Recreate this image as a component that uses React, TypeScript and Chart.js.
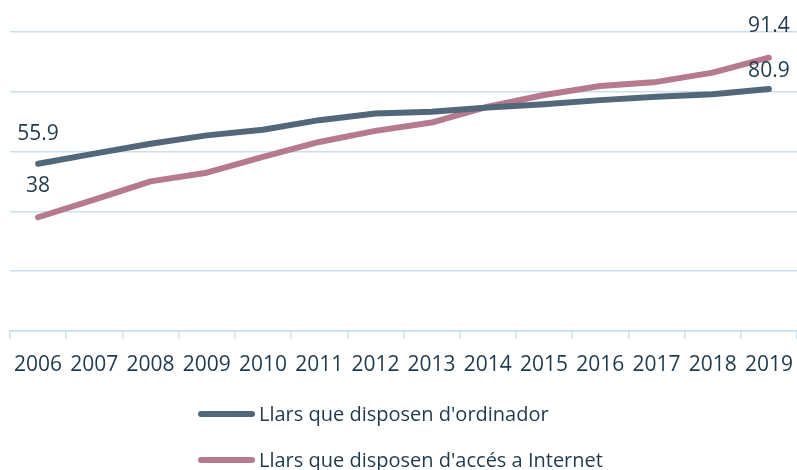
import React, { useEffect, useRef } from "react";
import { Chart, registerables } from "chart.js";

Chart.register(...registerables);

const years = ["2006","2007","2008","2009","2010","2011","2012","2013","2014","2015","2016","2017","2018","2019"];
const ordinador = [55.9, 59.3, 62.6, 65.4, 67.3, 70.5, 72.7, 73.3, 74.7, 75.8, 77.2, 78.3, 79.2, 80.9];
const internet = [38, 43.9, 50.0, 52.9, 58.2, 63.2, 66.9, 69.7, 75.0, 78.9, 81.9, 83.3, 86.4, 91.4];
const seriesNames = ["Llars que disposen d'ordinador", "Llars que disposen d'accés a Internet"];
const yTicks = [0, 20, 40, 60, 80, 100];

const DARK = "#52687A";
const PINK = "#B67A8E";
const TEXT = "#1F3A4D";
const GRID = "#C9DFEE";
const FONT = "'Open Sans', 'Noto Sans', sans-serif";

const endLabels = {
  id: "endLabels",
  afterDatasetsDraw(chart: any) {
    const ctx = chart.ctx;
    ctx.save();
    ctx.font = `21px ${FONT}`;
    ctx.fillStyle = TEXT;
    ctx.textAlign = "center";
    ctx.textBaseline = "middle";
    const offsets = [[30, 18], [31, 32]];
    chart.data.datasets.forEach((ds: any, di: number) => {
      const meta = chart.getDatasetMeta(di);
      const idxs = [0, ds.data.length - 1];
      idxs.forEach((idx, k) => {
        const pt = meta.data[idx];
        ctx.fillText(String(ds.data[idx]), pt.x, pt.y - offsets[di][k]);
      });
    });
    ctx.restore();
  },
};

export default function App() {
  const ref = useRef<HTMLCanvasElement>(null);
  useEffect(() => {
    if (!ref.current) return;
    const chart = new Chart(ref.current, {
      type: "line",
      data: {
        labels: years,
        datasets: [
          {
            label: seriesNames[0],
            data: ordinador,
            borderColor: DARK,
            backgroundColor: DARK,
            borderWidth: 6,
            borderCapStyle: "round",
            borderJoinStyle: "round",
            pointRadius: 0,
            tension: 0,
          },
          {
            label: seriesNames[1],
            data: internet,
            borderColor: PINK,
            backgroundColor: PINK,
            borderWidth: 6,
            borderCapStyle: "round",
            borderJoinStyle: "round",
            pointRadius: 0,
            tension: 0,
          },
        ],
      },
      options: {
        animation: false,
        responsive: false,
        layout: { padding: { left: 10, right: 0, top: 32, bottom: 78 } },
        plugins: { legend: { display: false }, tooltip: { enabled: false } },
        scales: {
          x: {
            offset: true,
            afterFit: (scale: any) => {
              scale.paddingRight = 0;
              scale.paddingLeft = 0;
            },
            grid: {
              offset: true,
              drawOnChartArea: false,
              drawTicks: true,
              tickLength: 8,
              color: GRID,
              lineWidth: 1.5,
            },
            border: { display: true, color: GRID, width: 1.5 },
            ticks: {
              color: TEXT,
              font: { family: FONT, size: 21 },
              padding: 14,
              maxRotation: 0,
              autoSkip: false,
            },
          },
          y: {
            min: yTicks[0],
            max: yTicks[yTicks.length - 1],
            afterBuildTicks: (axis: any) => {
              axis.ticks = yTicks.map((v) => ({ value: v }));
            },
            ticks: { display: false },
            grid: { color: GRID, lineWidth: 1.5, drawTicks: false },
            border: { display: false },
          },
        },
      },
      plugins: [endLabels],
    });
    return () => chart.destroy();
  }, []);

  const legendRow = (color: string, text: string, top: number) => (
    <div style={{ position: "absolute", left: 198, top: top - 14, height: 28, display: "flex", alignItems: "center" }}>
      <div style={{ width: 57, height: 6, borderRadius: 3, background: color, marginRight: 4 }} />
      <span style={{ fontFamily: FONT, fontSize: 20, color: TEXT, whiteSpace: "nowrap", lineHeight: "28px" }}>{text}</span>
    </div>
  );

  return (
    <div style={{ position: "absolute", left: 0, top: 0, width: 797, height: 470, background: "#fff" }}>
      <canvas ref={ref} width={797} height={470} style={{ display: "block", width: 797, height: 470 }} />
      {legendRow(DARK, seriesNames[0], 414)}
      {legendRow(PINK, seriesNames[1], 460)}
    </div>
  );
}
